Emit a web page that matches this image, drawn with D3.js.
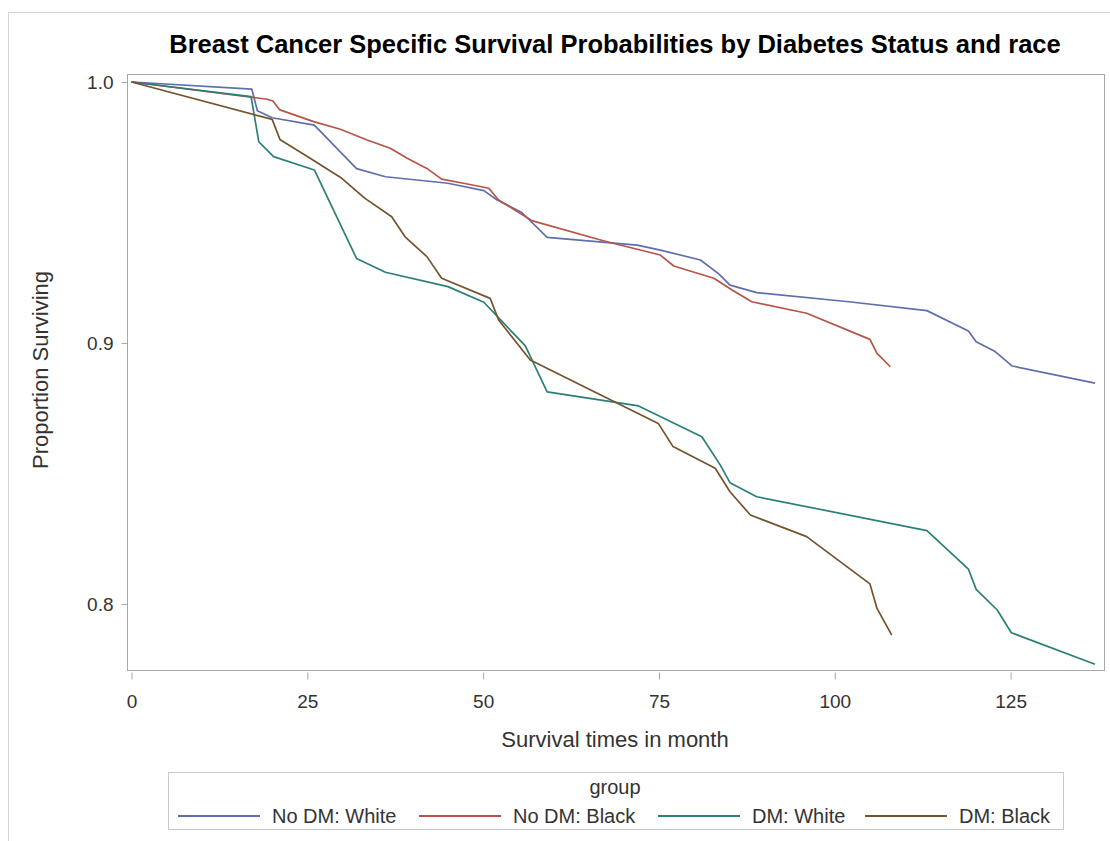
<!DOCTYPE html>
<html>
<head>
<meta charset="utf-8">
<script src="https://cdn.jsdelivr.net/npm/d3@7"></script>
<style>
  body { margin: 0; background: #fff; }
  text { font-family: "Liberation Sans", Arial, sans-serif; fill: #333; }
</style>
</head>
<body>
<svg id="chart" width="1110" height="841"></svg>
<script>
const groups = ["No DM: White", "No DM: Black", "DM: White", "DM: Black"],
groupColors = ["#5f6fab", "#b65449", "#2b7f77", "#74532f"],
xTicks = [0, 25, 50, 75, 100, 125],
yTicks = [0.8, 0.9, 1.0];

// months / survival per group
const noDmWhiteT = [0, 17.1, 17.9, 20, 26, 32, 36.1, 45, 50.1, 52, 55.5, 59.1, 71.9, 75.2, 80.9, 83.5, 85.1, 88.9, 102, 113.1, 119, 120.1, 122.8, 125.2, 137],
noDmWhiteS = [1.0, 0.9973, 0.989, 0.9863, 0.9835, 0.9668, 0.9637, 0.9612, 0.9584, 0.9548, 0.9500, 0.9405, 0.9375, 0.9356, 0.9318, 0.9265, 0.9222, 0.9193, 0.9158, 0.9124, 0.9046, 0.9005, 0.8967, 0.8912, 0.8846];

const noDmBlackT = [0, 17, 19.3, 20.1, 21.1, 25.9, 29.7, 33.5, 36.8, 39.2, 42, 44.1, 47.2, 50.8, 52.2, 56.9, 67.6, 75.2, 77.1, 82.8, 85.4, 88.2, 96, 105, 106, 107.9],
noDmBlackS = [1.0, 0.9942, 0.9934, 0.9927, 0.9893, 0.9848, 0.9819, 0.9778, 0.9746, 0.9708, 0.9669, 0.9628, 0.9612, 0.9593, 0.9548, 0.9469, 0.9388, 0.9337, 0.9295, 0.9248, 0.9203, 0.9158, 0.9114, 0.9014, 0.8960, 0.8909];

const dmWhiteT = [0, 17, 18.1, 20.2, 26, 32, 36.1, 45, 50.1, 56, 59.1, 72.1, 81.1, 83.7, 85.1, 88.9, 113.1, 119, 120.1, 123.1, 125.1, 137],
dmWhiteS = [1.0, 0.9944, 0.9771, 0.9714, 0.9663, 0.9324, 0.9271, 0.9216, 0.9156, 0.8989, 0.8813, 0.8759, 0.8641, 0.8533, 0.8465, 0.8411, 0.8281, 0.8134, 0.8056, 0.7977, 0.7890, 0.7769];

const dmBlackT = [0, 20, 21.1, 25.4, 29.9, 33.2, 37, 38.9, 42, 44.1, 51, 52.2, 56.7, 74.9, 77, 83, 85.1, 88, 96, 105, 106, 108.1],
dmBlackS = [1.0, 0.9857, 0.978, 0.9708, 0.9631, 0.9554, 0.9484, 0.9407, 0.9331, 0.9248, 0.9171, 0.9088, 0.8935, 0.8692, 0.8603, 0.852, 0.843, 0.8341, 0.8258, 0.8077, 0.7983, 0.7881];

const seriesT = [noDmWhiteT, noDmBlackT, dmWhiteT, dmBlackT],
seriesS = [noDmWhiteS, noDmBlackS, dmWhiteS, dmBlackS];

const svg = d3.select('#chart'),
plotLeft = 127.5, plotRight = 1104.5, plotTop = 74.5, plotBottom = 670.5;

const x = d3.scaleLinear().domain([0, 137]).range([131.5, 1095]),
y = d3.scaleLinear().domain([0.8, 1.0]).range([604, 82]);

// outer frame
svg.append('rect')
   .attr('x', 8.5).attr('y', 12.5)
   .attr('width', 1110).attr('height', 840)
   .attr('fill', 'none').attr('stroke', '#d4d4d4');

svg.append('text')
   .attr('x', 615).attr('y', 53)
   .attr('text-anchor', 'middle')
   .style('font-size', '25.5px').style('font-weight', 'bold')
   .style('fill', '#000')
   .text('Breast Cancer Specific Survival Probabilities by Diabetes Status and race');

// plot area border
svg.append('rect')
   .attr('x', plotLeft).attr('y', plotTop)
   .attr('width', plotRight - plotLeft).attr('height', plotBottom - plotTop)
   .attr('fill', 'none').attr('stroke', '#a8a8a8');

const xAxis = svg.append('g')
   .attr('transform', `translate(0,${plotBottom + 2})`)
   .call(d3.axisBottom(x).tickValues(xTicks).tickSize(7).tickPadding(15).tickFormat(d3.format('d')));
xAxis.select('.domain').remove();
xAxis.selectAll('line').attr('stroke', '#a8a8a8');
xAxis.selectAll('text').style('font-size', '19px').style('fill', '#333');

const yAxis = svg.append('g')
   .attr('transform', `translate(${plotLeft},0)`)
   .call(d3.axisLeft(y).tickValues(yTicks).tickSize(6).tickPadding(8).tickFormat(d3.format('.1f')));
yAxis.select('.domain').remove();
yAxis.selectAll('line').attr('stroke', '#a8a8a8');
yAxis.selectAll('text').style('font-size', '19px').style('fill', '#333');

svg.append('text')
   .attr('x', 615).attr('y', 747)
   .attr('text-anchor', 'middle')
   .style('font-size', '22px')
   .text('Survival times in month');

svg.append('text')
   .attr('transform', 'translate(48,370) rotate(-90)')
   .attr('text-anchor', 'middle')
   .style('font-size', '22px')
   .text('Proportion Surviving');

const line = d3.line().x(d => x(d[0])).y(d => y(d[1]));

svg.append('g')
   .selectAll('path')
   .data(groups)
   .join('path')
   .attr('d', (g, i) => line(d3.zip(seriesT[i], seriesS[i])))
   .attr('fill', 'none')
   .attr('stroke', (g, i) => groupColors[i])
   .attr('stroke-width', 1.7)
   .attr('stroke-linejoin', 'round');

// legend
const legend = svg.append('g');
legend.append('rect')
   .attr('x', 168.5).attr('y', 772.5)
   .attr('width', 895).attr('height', 57)
   .attr('fill', 'none').attr('stroke', '#c8c8c8');
legend.append('text')
   .attr('x', 615).attr('y', 794)
   .attr('text-anchor', 'middle')
   .style('font-size', '20px')
   .text('group');

const legendX = [178, 419, 658, 865];
const item = legend.selectAll('g.item')
   .data(groups)
   .join('g')
   .attr('class', 'item')
   .attr('transform', (g, i) => `translate(${legendX[i]},816)`);
item.append('line')
   .attr('x1', 0).attr('x2', 82)
   .attr('stroke', (g, i) => groupColors[i])
   .attr('stroke-width', 1.8);
item.append('text')
   .attr('x', 94).attr('y', 7)
   .style('font-size', '20px')
   .text(g => g);
</script>
</body>
</html>
